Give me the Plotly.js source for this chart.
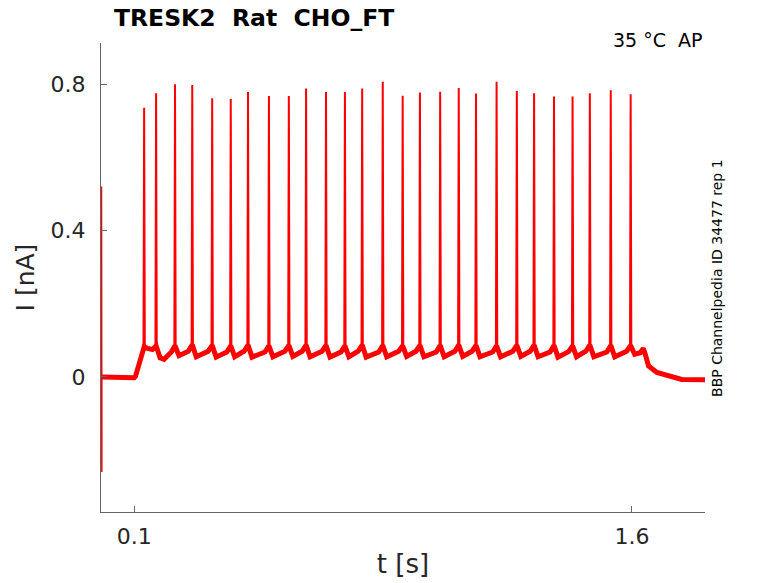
<!DOCTYPE html>
<html>
<head>
<meta charset="utf-8">
<script src="https://cdn.plot.ly/plotly-3.0.1.min.js"></script>
<style>
  body { margin: 0; background: #fff; }
  #chart { width: 778px; height: 583px; }
</style>
</head>
<body>
<div id="chart"></div>
<script>
/* spike times [s] and peak currents [nA] */
const spikeT = [0.130, 0.166, 0.223, 0.275, 0.335, 0.391, 0.443, 0.506, 0.566,
  0.618, 0.678, 0.735, 0.787, 0.849, 0.909, 0.961, 1.022, 1.078, 1.130,
  1.192, 1.253, 1.305, 1.365, 1.421, 1.473, 1.536, 1.596];
const spikePeak = [0.735, 0.775, 0.799, 0.797, 0.761, 0.759, 0.778, 0.767, 0.767,
  0.788, 0.778, 0.778, 0.788, 0.806, 0.768, 0.777, 0.779, 0.789, 0.774,
  0.806, 0.781, 0.775, 0.766, 0.766, 0.775, 0.783, 0.772];
const spikeFoot = 0.075;

/* slow current between spikes */
const baseT = [0.003, 0.05, 0.100, 0.104, 0.116, 0.126, 0.130,
  0.140, 0.155, 0.166,
  0.178, 0.190, 0.212, 0.223,
  0.235, 0.263, 0.275,
  0.287, 0.323, 0.335,
  0.347, 0.379, 0.391,
  0.403, 0.431, 0.443,
  0.455, 0.494, 0.506,
  0.518, 0.554, 0.566,
  0.578, 0.606, 0.618,
  0.630, 0.666, 0.678,
  0.690, 0.723, 0.735,
  0.747, 0.775, 0.787,
  0.799, 0.837, 0.849,
  0.861, 0.897, 0.909,
  0.921, 0.949, 0.961,
  0.973, 1.010, 1.022,
  1.034, 1.066, 1.078,
  1.090, 1.118, 1.130,
  1.142, 1.180, 1.192,
  1.204, 1.241, 1.253,
  1.265, 1.293, 1.305,
  1.317, 1.353, 1.365,
  1.377, 1.409, 1.421,
  1.433, 1.461, 1.473,
  1.485, 1.524, 1.536,
  1.548, 1.584, 1.596,
  1.608, 1.625, 1.634, 1.640, 1.650, 1.675, 1.715, 1.750, 1.820];
const baseI = [0.0, -0.002, -0.002, 0.002, 0.035, 0.070, 0.082,
  0.078, 0.075, 0.085,
  0.052, 0.048, 0.068, 0.085,
  0.058, 0.070, 0.088,
  0.055, 0.070, 0.086,
  0.054, 0.068, 0.085,
  0.055, 0.070, 0.087,
  0.054, 0.068, 0.085,
  0.055, 0.070, 0.086,
  0.056, 0.070, 0.087,
  0.055, 0.070, 0.086,
  0.054, 0.068, 0.085,
  0.055, 0.070, 0.087,
  0.054, 0.068, 0.086,
  0.055, 0.070, 0.085,
  0.056, 0.070, 0.086,
  0.055, 0.068, 0.086,
  0.055, 0.070, 0.087,
  0.056, 0.070, 0.086,
  0.055, 0.068, 0.085,
  0.055, 0.070, 0.086,
  0.056, 0.070, 0.087,
  0.055, 0.068, 0.086,
  0.054, 0.069, 0.085,
  0.055, 0.070, 0.087,
  0.055, 0.068, 0.086,
  0.055, 0.070, 0.086,
  0.062, 0.066, 0.078, 0.062, 0.030, 0.012, 0.000, -0.007, -0.008];

/* capacitive artefact at the start */
const artT = [0.0015, 0.0015, 0.0025, 0.0025];
const artI = [0.0, 0.52, -0.26, 0.0];

const tickT = [0.1, 1.6];
const tickI = [0, 0.4, 0.8];
const tickIText = ["0", "0.4", "0.8"];

// build spike segments
const sx = [], sy = [];
spikeT.forEach((t, i) => {
  sx.push(t - 0.002, t, t + 0.002, null);
  sy.push(spikeFoot, spikePeak[i], spikeFoot, null);
});

const red = "#ff0000";
const data = [
  { x: baseT, y: baseI, type: "scatter", mode: "lines",
    line: { color: red, width: 5 }, hoverinfo: "skip" },
  { x: sx, y: sy, type: "scatter", mode: "lines",
    line: { color: red, width: 2 }, hoverinfo: "skip" },
  { x: artT, y: artI, type: "scatter", mode: "lines",
    line: { color: red, width: 1.5 }, hoverinfo: "skip" },
];

const font = "DejaVu Sans, sans-serif";
const layout = {
  width: 778,
  height: 583,
  margin: { l: 101, r: 73, t: 43, b: 71 },
  paper_bgcolor: "#fff",
  plot_bgcolor: "#fff",
  showlegend: false,
  font: { family: font, color: "#262626" },
  title: {
    text: "<b>TRESK2\u00a0\u00a0Rat\u00a0\u00a0CHO_FT</b>",
    font: { family: font, size: 23.5, color: "#000" },
    xref: "paper", x: 0.0215, xanchor: "left",
    yref: "container", y: 0.969, yanchor: "middle",
  },
  xaxis: {
    range: [0, 1.82],
    tickvals: tickT,
    ticktext: ["0.1", "1.6"],
    ticks: "inside", ticklen: 6, tickcolor: "#666",
    showline: true, linecolor: "#666", linewidth: 1,
    showgrid: false, zeroline: false,
    tickfont: { size: 22, color: "#262626" },
    ticklabelstandoff: 5,
    title: { text: "t [s]", font: { size: 26, color: "#262626" }, standoff: 6 },
    automargin: false,
  },
  yaxis: {
    range: [-0.369, 0.912],
    tickvals: tickI,
    ticktext: tickIText,
    ticks: "inside", ticklen: 6, tickcolor: "#666",
    showline: true, linecolor: "#666", linewidth: 1,
    showgrid: false, zeroline: false,
    tickfont: { size: 22, color: "#262626" },
    ticklabelstandoff: 10,
    title: { text: "I [nA]", font: { size: 25, color: "#262626" }, standoff: 8 },
    automargin: false,
  },
  annotations: [
    { text: "35 °C\u00a0\u00a0AP", xref: "paper", yref: "paper",
      x: 1, y: 1.0064, xanchor: "right", yanchor: "middle",
      showarrow: false, font: { family: font, size: 19, color: "#000" } },
    { text: "BBP Channelpedia ID 34477 rep 1", xref: "paper", yref: "paper",
      x: 1.019, y: 0.5, xanchor: "center", yanchor: "middle", textangle: -90,
      showarrow: false, font: { family: font, size: 14, color: "#000" } },
  ],
};

Plotly.newPlot("chart", data, layout, { staticPlot: true });
</script>
</body>
</html>
